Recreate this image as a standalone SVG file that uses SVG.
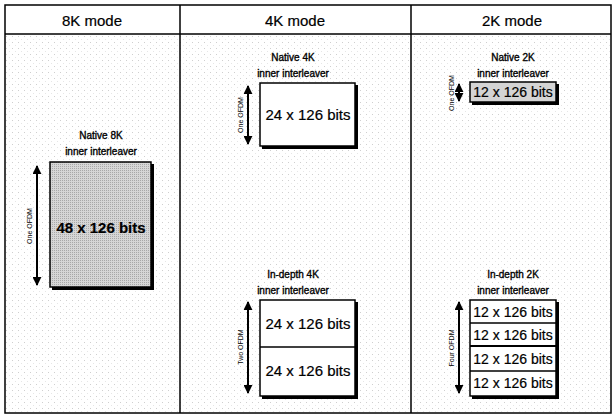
<svg xmlns="http://www.w3.org/2000/svg" width="615" height="416" viewBox="0 0 615 416">
<defs>
<style>
.hdr{font-family:"Liberation Sans",Arial,sans-serif;font-size:15px;fill:#000;text-anchor:middle;stroke:#000;stroke-width:0.2}
.lbl{font-family:"Liberation Sans",Arial,sans-serif;font-size:10px;fill:#000;text-anchor:middle;stroke:#000;stroke-width:0.35}
.bits{font-family:"Liberation Sans",Arial,sans-serif;font-size:15px;fill:#000;text-anchor:middle;stroke:#000;stroke-width:0.2}
.bits2{font-family:"Liberation Sans",Arial,sans-serif;font-size:14px;fill:#000;text-anchor:middle;stroke:#000;stroke-width:0.2}
.ofdm{font-family:"Liberation Sans",Arial,sans-serif;font-size:7px;fill:#000;text-anchor:middle}
.box{fill:#fff;stroke:#000;stroke-width:1.5}
.shadow{fill:#000}
.arr{stroke:#000;stroke-width:2;fill:none;marker-start:url(#ah);marker-end:url(#ah)}
.grid{stroke:#000;stroke-width:1.5;fill:none}
</style>
<marker id="ah" viewBox="0 0 10 10" refX="9" refY="5" markerWidth="4.5" markerHeight="4.5" orient="auto-start-reverse" markerUnits="strokeWidth">
<path d="M0,0 L10,5 L0,10 Z" fill="#000"/>
</marker>
<pattern id="dots" width="6" height="6" patternUnits="userSpaceOnUse">
<rect x="0" y="0" width="1" height="1" fill="#cfcfcf"/>
<rect x="3" y="3" width="1" height="1" fill="#e6e6e6"/>
</pattern>
<pattern id="stip" width="2" height="2" patternUnits="userSpaceOnUse">
<rect width="2" height="2" fill="#d6d6d6"/>
<rect width="1" height="1" fill="#a8a8a8"/>
</pattern>
</defs>
<rect x="0" y="0" width="615" height="416" fill="#fff"/>
<g id="table">
<rect x="5" y="34" width="606" height="379" fill="url(#dots)"/>
<rect x="5" y="5" width="606" height="408" class="grid"/>
<line x1="5" y1="34" x2="611" y2="34" class="grid"/>
<line x1="180" y1="5" x2="180" y2="413" class="grid"/>
<line x1="411" y1="5" x2="411" y2="413" class="grid"/>
<text class="hdr" x="92" y="26">8K mode</text>
<text class="hdr" x="295" y="26">4K mode</text>
<text class="hdr" x="512" y="26">2K mode</text>
</g>
<g id="connectors">
<line class="arr" x1="37" y1="166" x2="37" y2="285"/>
<line class="arr" x1="248" y1="86" x2="248" y2="144"/>
<line class="arr" x1="459" y1="84" x2="459" y2="101"/>
<line class="arr" x1="248" y1="302" x2="248" y2="393"/>
<line class="arr" x1="459" y1="302" x2="459" y2="393"/>
</g>
<g id="native8k">
<text class="lbl" x="101" y="139">Native 8K</text>
<text class="lbl" x="101" y="155">inner interleaver</text>
<rect class="shadow" x="52" y="164" width="102" height="126"/>
<rect x="50" y="162" width="101" height="125" fill="url(#stip)" stroke="#000" stroke-width="1.5"/>
<text class="bits" x="101" y="233" font-weight="bold">48 x 126 bits</text>
<text class="ofdm" transform="translate(32,226) rotate(-90)">One OFDM</text>
</g>
<g id="native4k">
<text class="lbl" x="293" y="61">Native 4K</text>
<text class="lbl" x="293" y="77">inner interleaver</text>
<rect class="shadow" x="262" y="85" width="96" height="64"/>
<rect class="box" x="260" y="83" width="95" height="63"/>
<text class="bits" x="308" y="120">24 x 126 bits</text>
<text class="ofdm" transform="translate(243,115) rotate(-90)">One OFDM</text>
</g>
<g id="native2k">
<text class="lbl" x="513" y="61">Native 2K</text>
<text class="lbl" x="513" y="77">inner interleaver</text>
<rect class="shadow" x="472" y="84" width="87" height="21"/>
<rect x="470" y="82" width="86" height="20" fill="#d4d4d4" stroke="#000" stroke-width="1.5"/>
<text class="bits2" x="513" y="97">12 x 126 bits</text>
<text class="ofdm" transform="translate(454,93) rotate(-90)">One OFDM</text>
</g>
<g id="indepth4k">
<text class="lbl" x="293" y="278">In-depth 4K</text>
<text class="lbl" x="293" y="294">inner interleaver</text>
<rect class="shadow" x="262" y="302" width="96" height="97"/>
<rect class="box" x="260" y="300" width="95" height="96"/>
<line x1="260" y1="347" x2="355" y2="347" stroke="#000" stroke-width="1.5"/>
<text class="bits" x="308" y="329">24 x 126 bits</text>
<text class="bits" x="308" y="376">24 x 126 bits</text>
<text class="ofdm" transform="translate(243,347) rotate(-90)">Two OFDM</text>
</g>
<g id="indepth2k">
<text class="lbl" x="513" y="278">In-depth 2K</text>
<text class="lbl" x="513" y="294">inner interleaver</text>
<rect class="shadow" x="472" y="302" width="87" height="97"/>
<rect class="box" x="470" y="300" width="86" height="96"/>
<line x1="470" y1="323" x2="556" y2="323" stroke="#000" stroke-width="1.5"/>
<line x1="470" y1="346" x2="556" y2="346" stroke="#000" stroke-width="2"/>
<line x1="470" y1="371" x2="556" y2="371" stroke="#000" stroke-width="1.5"/>
<text class="bits2" x="513" y="317">12 x 126 bits</text>
<text class="bits2" x="513" y="340">12 x 126 bits</text>
<text class="bits2" x="513" y="364">12 x 126 bits</text>
<text class="bits2" x="513" y="388">12 x 126 bits</text>
<text class="ofdm" transform="translate(454,348) rotate(-90)">Four OFDM</text>
</g>
</svg>
